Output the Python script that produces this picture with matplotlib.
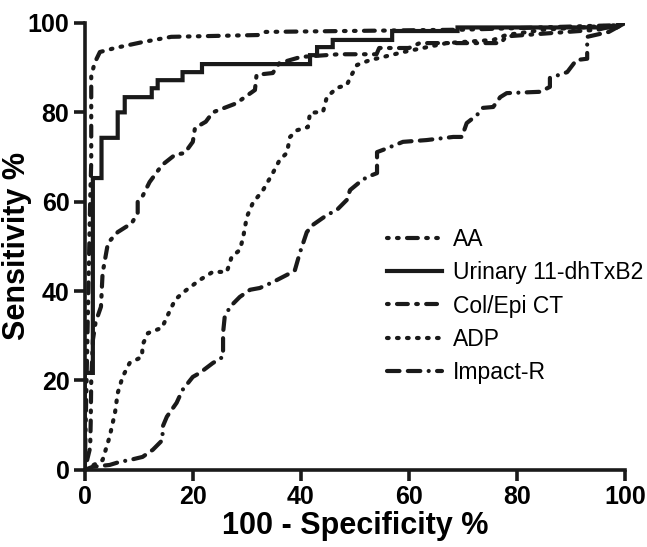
import matplotlib
matplotlib.use('Agg')
import matplotlib.pyplot as plt

# ROC curve vertices (100 - specificity %, sensitivity %)
aa_x = [0, 0.5, 1.0, 1.2, 1.2, 1.8, 2.8, 5.6, 10.6, 16, 32, 33.5, 70, 98.5, 100]
aa_y = [0, 30, 60, 69, 88, 91, 93.5, 94.4, 95.7, 96.9, 97.3, 98, 98.5, 99.5, 100]

uri_x = [0, 0, 1.5, 1.5, 3.1, 3.1, 6.1, 6.1, 7.4, 7.4, 12.4, 12.4, 13.5, 13.5,
         18.1, 18.1, 21.7, 21.7, 41.7, 41.7, 43, 43, 45.9, 45.9, 56.9, 56.9,
         69, 69, 98.5, 100]
uri_y = [0, 21.7, 21.7, 65.3, 65.3, 74.3, 74.3, 80, 80, 83.4, 83.4, 85.4, 85.4, 87.2,
         87.2, 89, 89, 90.8, 90.8, 92.8, 92.8, 94.6, 94.6, 96.2, 96.2, 98.2,
         98.2, 99, 99, 100]

col_x = [0, 1.0, 1.1, 1.2, 1.5, 2.0, 3.0, 3.3, 4.3, 6.1, 8.7, 9.8, 9.8, 10.6, 12,
         14.3, 16.7, 18.5, 20, 20.4, 22.4, 23.7, 28, 31.5, 31.8, 34.8, 36, 40, 47,
         54, 54.5, 60, 62, 77, 78, 95, 100]
col_y = [0, 5, 10.5, 20, 29, 33, 36.5, 44, 50.8, 53.2, 55.2, 57.5, 60, 61, 64.4,
         68.2, 70.5, 70.9, 73.4, 76.5, 77.9, 80, 82, 85, 88.4, 88.8, 91, 92.4, 93,
         93, 94.4, 94.4, 95.5, 95.5, 97, 98.5, 100]

adp_x = [0, 3.3, 4.6, 5.6, 6.1, 7.0, 8.3, 10.6, 10.7, 11.7, 14.3, 15.2, 16.7, 18.1,
         21.3, 23.7, 26.3, 27.2, 28.7, 29.3, 30, 31.1, 33, 34.8, 36.1, 37.4, 38,
         39.3, 41.3, 41.7, 44.1, 44.8, 46.7, 48.5, 49.4, 50.4, 52.8, 54.6, 59, 67,
         75.6, 78, 85, 98.5, 100]
adp_y = [0, 2.2, 7.4, 12.8, 17.2, 20.8, 23.9, 25.3, 28, 30.6, 31.8, 34.2, 38, 39.6,
         42.5, 44.3, 44.3, 47.7, 49.2, 51.9, 56.6, 59.7, 62.6, 66.4, 69.4, 70.9, 74.5,
         76, 76.7, 79.9, 80.1, 83.4, 85.5, 86.1, 88.4, 90.6, 91.7, 92.2, 93.5, 95.5,
         96.2, 97.3, 98.5, 99.5, 100]

imp_x = [0, 1.5, 4.6, 6.5, 8.3, 10.7, 12.6, 14.4, 14.4, 15.2, 17, 18.1, 20, 21.3,
         23.7, 25.6, 25.6, 25.9, 26.9, 28.7, 30.6, 32.4, 34.8, 38, 38.9, 39.8, 41.1,
         42.2, 44.8, 46.7, 48.5, 49.1, 50.9, 52.2, 54.1, 54.1, 55.2, 58.9, 63.3, 68.2,
         69.8, 70.7, 72.6, 73.7, 75.6, 76.9, 78.1, 84.3, 86.1, 86.1, 89.3, 91, 93, 93,
         97, 100]
imp_y = [0, 0.7, 1.1, 1.8, 2.2, 2.9, 4.5, 6.7, 9.6, 11.9, 15, 17.9, 20.8, 21.7,
         23.9, 25.3, 30.6, 34.2, 36.5, 38.7, 40.3, 40.7, 42, 44, 44.7, 48.5, 53.2,
         54.8, 57, 58.2, 60.4, 62.6, 64.4, 65.5, 66.4, 71.1, 71.6, 73.4, 73.8, 74.5,
         74.5, 77.6, 79.4, 81, 81.2, 83.4, 84.3, 84.6, 85.7, 87.7, 89, 91.7, 92, 96.9,
         98, 100]

labels = ['AA', 'Urinary 11-dhTxB2', 'Col/Epi CT', 'ADP', 'Impact-R']

ink = '#1a1a1a'
plt.rcParams['font.family'] = ['Liberation Sans', 'DejaVu Sans']

fig = plt.figure(figsize=(6.47, 5.47), dpi=100)
ax = fig.add_axes([0.131, 0.141, 0.835, 0.817])

lw = 3.0
ax.plot(aa_x, aa_y, c=ink, lw=lw, ls=(0, (0.4, 2.0, 0.4, 2.0, 2.6, 2.0)),
        dash_capstyle='round', label=labels[0])
ax.plot(uri_x, uri_y, c=ink, lw=lw, ls='-', solid_joinstyle='miter', label=labels[1])
ax.plot(col_x, col_y, c=ink, lw=lw, ls=(0, (0.4, 2.0, 2.6, 2.0)),
        dash_capstyle='round', label=labels[2])
ax.plot(adp_x, adp_y, c=ink, lw=lw, ls=(0, (0.4, 2.0)),
        dash_capstyle='round', label=labels[3])
ax.plot(imp_x, imp_y, c=ink, lw=lw, ls=(0, (3.0, 2.0, 3.0, 2.0, 0.01, 2.0)),
        dash_capstyle='round', label=labels[4])

ax.set_xlim(0, 100)
ax.set_ylim(0, 100)
ax.set_xticks([0, 20, 40, 60, 80, 100])
ax.set_yticks([0, 20, 40, 60, 80, 100])
for s in ['top', 'right']:
    ax.spines[s].set_visible(False)
for s in ['left', 'bottom']:
    ax.spines[s].set_linewidth(2.6)
    ax.spines[s].set_color(ink)
ax.tick_params(width=2.6, length=8, color=ink, labelsize=18, pad=3)
for t in ax.get_xticklabels() + ax.get_yticklabels():
    t.set_fontweight('bold')

ax.set_xlabel('100 - Specificity %', fontsize=22, fontweight='bold', labelpad=1)
ax.set_ylabel('Sensitivity %', fontsize=22, fontweight='bold')
ax.yaxis.set_label_coords(-0.098, 0.5)

ax.legend(loc='upper left', bbox_to_anchor=(0.543, 0.562), frameon=False,
          fontsize=16.5, handlelength=2.4, handletextpad=0.45, labelspacing=0.45,
          borderaxespad=0)

fig.savefig('out.png', dpi=100)
